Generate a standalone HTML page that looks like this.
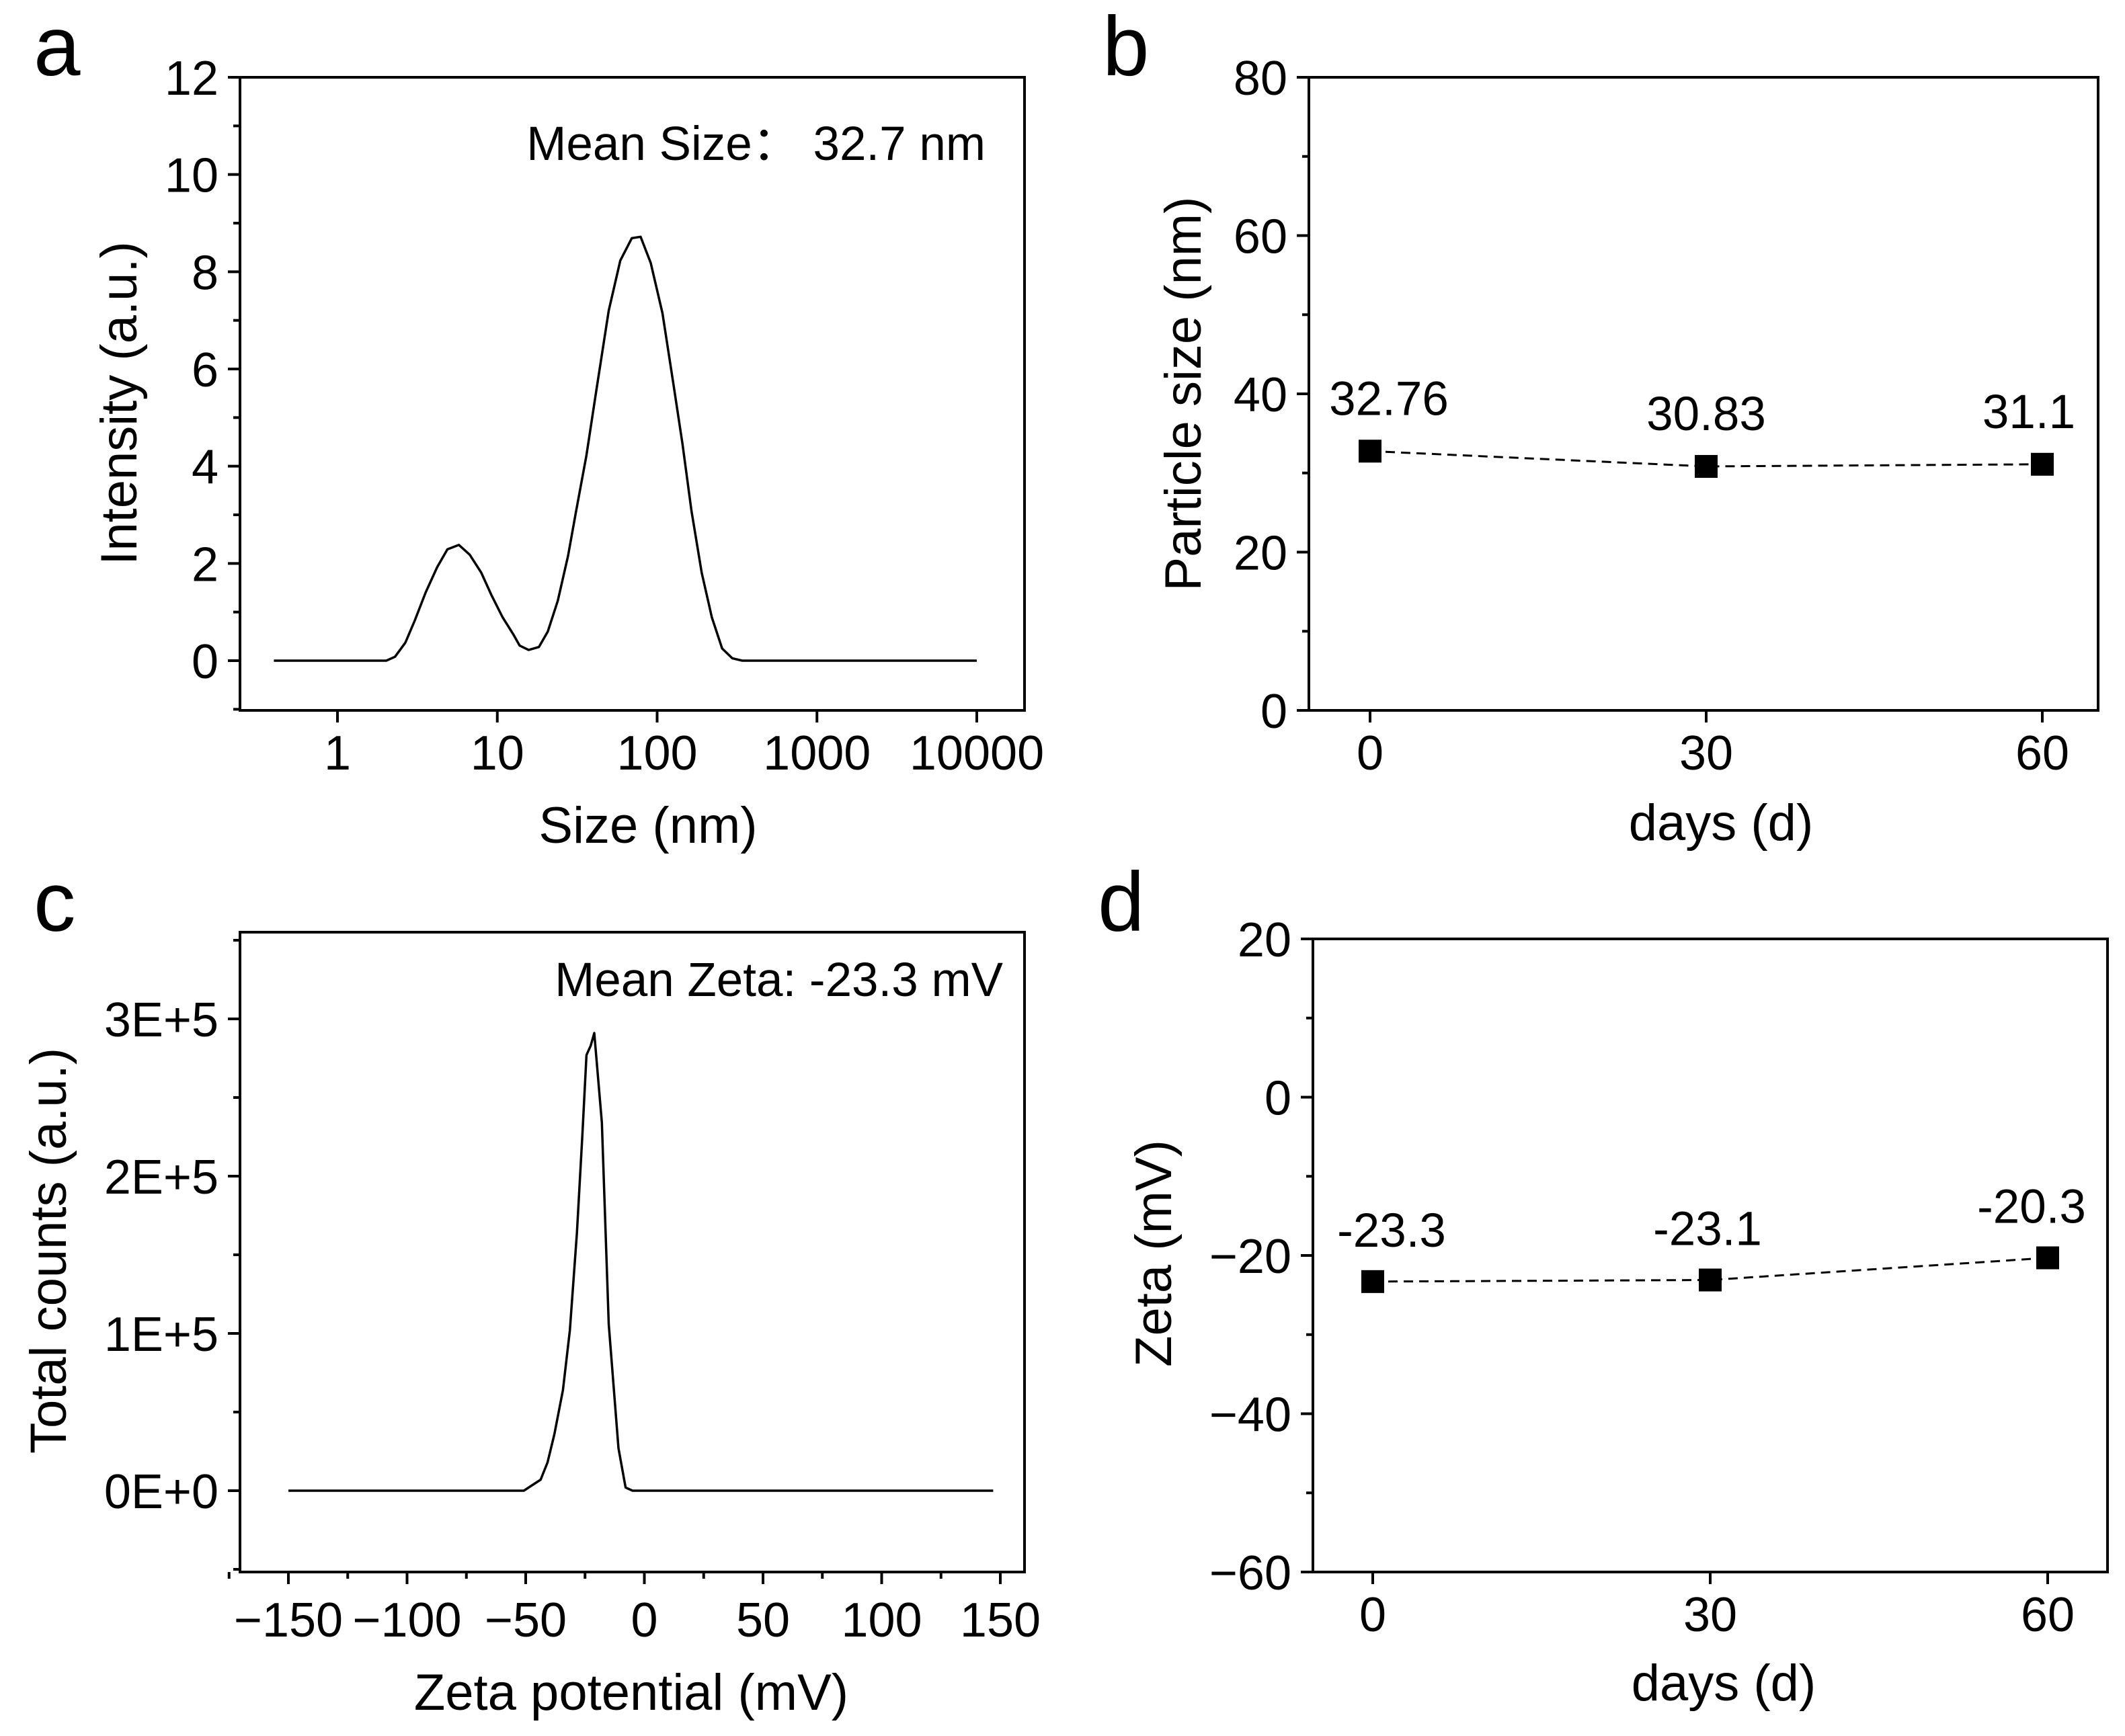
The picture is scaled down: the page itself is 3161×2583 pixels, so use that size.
<!DOCTYPE html>
<html><head><meta charset="utf-8"><style>
html,body{margin:0;padding:0;background:#fff;}
svg{display:block;font-family:"Liberation Sans",Arial,sans-serif;}
</style></head><body>
<svg id="fig" width="3161" height="2583" viewBox="0 0 3161 2583" xmlns="http://www.w3.org/2000/svg">
<rect width="3161" height="2583" fill="#fff"/>
</svg>
<script>
// Panel a data
const sizeNm = [0.40,2.02,2.29,2.66,3.05,3.56,4.2,4.87,5.75,6.72,7.94,9.19,10.8,12.6,13.8,15.7,18.2,20.7,23.9,27.7,31.1,36.1,41.8,49.8,58.8,69.4,78.8,91.2,108,126,144,164,190,220,255,295,341,10000];
const intensity = [0,0,0.08,0.37,0.83,1.40,1.92,2.29,2.38,2.18,1.81,1.35,0.89,0.54,0.31,0.22,0.28,0.60,1.23,2.15,3.07,4.22,5.59,7.20,8.23,8.69,8.72,8.18,7.15,5.72,4.46,3.08,1.81,0.89,0.25,0.05,0,0];
const aXTicks = [1,10,100,1000,10000];
const aXTickLabels = ["1","10","100","1000","10000"];
const aYTicks = [0,2,4,6,8,10,12];
// Panel b data
const daysB = [0,30,60];
const sizeB = [32.76,30.83,31.1];
const sizeBLabels = ["32.76","30.83","31.1"];
const bYTicks = [0,20,40,60,80];
// Panel c data
const zetaMv = [-150,-50.8,-43.7,-40.8,-37.9,-34.3,-31.4,-28.4,-26.1,-24.4,-22.6,-21.1,-17.9,-15.0,-10.9,-7.9,-5.0,147];
const counts = [0,0,0.07,0.18,0.36,0.64,1.02,1.64,2.27,2.77,2.83,2.91,2.34,1.06,0.27,0.02,0,0];
const cXTicks = [-150,-100,-50,0,50,100,150];
const cXTickLabels = ["\u2212150","\u2212100","\u221250","0","50","100","150"];
const cYTicks = [0,1,2,3];
const cYTickLabels = ["0E+0","1E+5","2E+5","3E+5"];
// Panel d data
const daysD = [0,30,60];
const zetaD = [-23.3,-23.1,-20.3];
const zetaDLabels = ["-23.3","-23.1","-20.3"];
const dYTicks = [-60,-40,-20,0,20];
const dYTickLabels = ["\u221260","\u221240","\u221220","0","20"];

const svg = document.getElementById('fig');
const NS = 'http://www.w3.org/2000/svg';
function mk(tag, attrs, parent){
  const e = document.createElementNS(NS, tag);
  for (const k in attrs) e.setAttribute(k, attrs[k]);
  (parent||svg).appendChild(e);
  return e;
}
function txt(s, x, y, size, anchor, parent){
  const t = mk('text', {x:x, y:y, 'font-size':size, 'text-anchor':anchor||'middle', fill:'#000'}, parent);
  t.textContent = s;
  return t;
}
function scale(d0,d1,r0,r1){ return v => r0 + (v-d0)*(r1-r0)/(d1-d0); }

function frame(g, L, T, R, B){
  const r = mk('rect', {x:L, y:T, width:R-L, height:B-T, fill:'none', stroke:'#000', 'stroke-width':4}, g);
  
  
}
function yTick(g, L, y, len){ mk('line', {x1:L-len, y1:y, x2:L, y2:y, stroke:'#000', 'stroke-width':4}, g); }
function xTick(g, B, x, len){ mk('line', {x1:x, y1:B, x2:x, y2:B+len, stroke:'#000', 'stroke-width':4}, g); }

// ---------- Panel a ----------
(function(){
  const g = mk('g', {});
  
  
  const L=357,T=115,R=1524,B=1057;
  const xs = v => 502 + Math.log10(v)*237.75;
  const ys = scale(0,12,983,115);
  frame(g,L,T,R,B);
  aYTicks.forEach(v=>{ yTick(g,L,ys(v),18);
    const t = txt(String(v), L-32, ys(v)+26, 72, 'end', g);
      });
  for (let v=-1; v<12; v+=2) yTick(g,L,ys(v),10);
  aXTicks.forEach((v,i)=>{ xTick(g,B,xs(v),18);
    const t = txt(aXTickLabels[i], xs(v), 1145, 72, 'middle', g);
      });
  const pts = sizeNm.map((v,i)=>xs(v).toFixed(1)+','+ys(intensity[i]).toFixed(1)).join(' ');
  const pl = mk('polyline', {points:pts, fill:'none', stroke:'#000', 'stroke-width':3.5, 'stroke-linejoin':'round'}, g);
   
  let t = txt('Mean Size\uFF1A 32.7 nm', 1466, 238, 71, 'end', g);
   
  t = txt('Size (nm)', 964, 1254, 76, 'middle', g);
   
  t = txt('Intensity (a.u.)', 0, 0, 76, 'middle', g);
  t.setAttribute('transform','translate(203,600) rotate(-90)');
   
  t = txt('a', 50, 112, 125, 'start', g);
   
})();

// ---------- Panel b ----------
(function(){
  const g = mk('g', {});
  
  
  const L=1947,T=115,R=3121,B=1057;
  const xs = scale(0,60,2038,3038);
  const ys = scale(0,80,1057,115);
  frame(g,L,T,R,B);
  bYTicks.forEach(v=>{ yTick(g,L,ys(v),18);
    const t = txt(String(v), L-32, ys(v)+26, 72, 'end', g);
      });
  for (let v=10; v<80; v+=20) yTick(g,L,ys(v),10);
  daysB.forEach(v=>{ xTick(g,B,xs(v),18);
    const t = txt(String(v), xs(v), 1145, 72, 'middle', g);
      });
  const pts = daysB.map((v,i)=>xs(v)+','+ys(sizeB[i])).join(' ');
  const pl = mk('polyline', {points:pts, fill:'none', stroke:'#000', 'stroke-width':3, 'stroke-dasharray':'14 9'}, g);
   
  const offs = [28,0,-20];
  daysB.forEach((v,i)=>{
    const m = mk('rect', {x:xs(v)-17, y:ys(sizeB[i])-17, width:34, height:34, fill:'#000'}, g);
     
    const t = txt(sizeBLabels[i], xs(v)+offs[i], ys(sizeB[i])-54, 71, 'middle', g);
     
  });
  let t = txt('days (d)', 2560, 1250, 76, 'middle', g);
   
  t = txt('Particle size (nm)', 0, 0, 76, 'middle', g);
  t.setAttribute('transform','translate(1786,586) rotate(-90)');
   
  t = txt('b', 1640, 112, 125, 'start', g);
   
})();

// ---------- Panel c ----------
(function(){
  const g = mk('g', {});
  
  
  const L=357,T=1387,R=1524,B=2339;
  const xs = scale(-150,150,429,1488);
  const ys = scale(0,3,2218,1516);
  frame(g,L,T,R,B);
  cYTicks.forEach((v,i)=>{ yTick(g,L,ys(v),18);
    const t = txt(cYTickLabels[i], L-32, ys(v)+26, 72, 'end', g);
      });
  for (let v=-0.5; v<3.6; v+=1) yTick(g,L,ys(v),10);
  cXTicks.forEach((v,i)=>{ xTick(g,B,xs(v),18);
    const t = txt(cXTickLabels[i], xs(v), 2435, 72, 'middle', g);
      });
  for (let v=-175; v<=150; v+=50) xTick(g,B,xs(v),10);
  const pts = zetaMv.map((v,i)=>xs(v).toFixed(1)+','+ys(counts[i]).toFixed(1)).join(' ');
  const pl = mk('polyline', {points:pts, fill:'none', stroke:'#000', 'stroke-width':3.5, 'stroke-linejoin':'round'}, g);
   
  let t = txt('Mean Zeta: -23.3 mV', 1492, 1482, 71, 'end', g);
   
  t = txt('Zeta potential (mV)', 939, 2544, 76, 'middle', g);
  t.setAttribute('transform','');
   
  t = txt('Total counts (a.u.)', 0, 0, 76, 'middle', g);
  t.setAttribute('transform','translate(98,1861) rotate(-90)');
   
  t = txt('c', 50, 1385, 125, 'start', g);
   
})();

// ---------- Panel d ----------
(function(){
  const g = mk('g', {});
  
  
  const L=1953,T=1397,R=3135,B=2339;
  const xs = scale(0,60,2042,3046);
  const ys = scale(-60,20,2339,1397);
  frame(g,L,T,R,B);
  dYTicks.forEach((v,i)=>{ yTick(g,L,ys(v),18);
    const t = txt(dYTickLabels[i], L-32, ys(v)+26, 72, 'end', g);
      });
  for (let v=-50; v<20; v+=20) yTick(g,L,ys(v),10);
  daysD.forEach(v=>{ xTick(g,B,xs(v),18);
    const t = txt(String(v), xs(v), 2427, 72, 'middle', g);
      });
  const pts = daysD.map((v,i)=>xs(v)+','+ys(zetaD[i])).join(' ');
  const pl = mk('polyline', {points:pts, fill:'none', stroke:'#000', 'stroke-width':3, 'stroke-dasharray':'14 9'}, g);
   
  const offs = [28,-4,-24];
  daysD.forEach((v,i)=>{
    const m = mk('rect', {x:xs(v)-17, y:ys(zetaD[i])-17, width:34, height:34, fill:'#000'}, g);
     
    const t = txt(zetaDLabels[i], xs(v)+offs[i], ys(zetaD[i])-52, 71, 'middle', g);
     
  });
  let t = txt('days (d)', 2564, 2530, 76, 'middle', g);
   
  t = txt('Zeta (mV)', 0, 0, 76, 'middle', g);
  t.setAttribute('transform','translate(1742,1865) rotate(-90)');
   
  t = txt('d', 1633, 1385, 125, 'start', g);
   
})();
</script>
</body></html>
